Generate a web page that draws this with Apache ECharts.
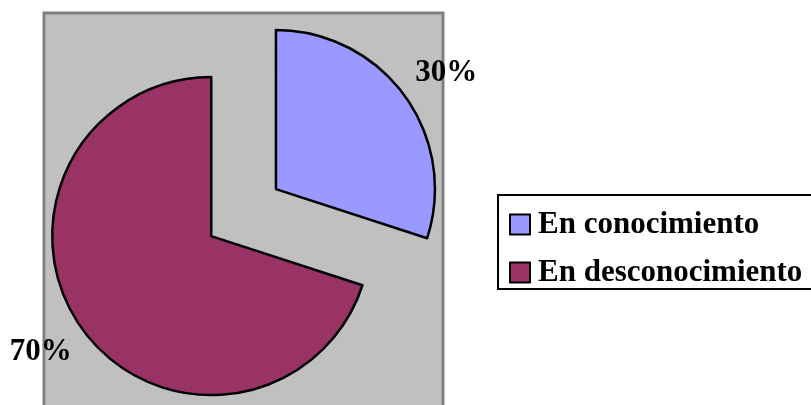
<!DOCTYPE html>
<html>
<head>
<meta charset="utf-8">
<style>
  html, body { margin: 0; padding: 0; background: #fff; }
  #chart { width: 811px; height: 405px; }
</style>
<script src="https://cdn.jsdelivr.net/npm/echarts@6/dist/echarts.min.js"></script>
</head>
<body>
<div id="chart"></div>
<script>
// data
var categories = ['En conocimiento', 'En desconocimiento'];
var values = [30, 70];
var colors = ['#9999ff', '#993366'];

var serif = "'Liberation Serif', 'Times New Roman', serif";

var chart = echarts.init(document.getElementById('chart'));

var pieData = categories.map(function (name, i) {
    return {
        name: name,
        value: values[i],
        selected: true,
        itemStyle: { color: colors[i] }
    };
});

var option = {
    backgroundColor: '#ffffff',
    animation: false,
    // grey plot area behind the pie
    graphic: [
        {
            type: 'rect',
            z: -10,
            shape: { x: 44, y: 13, width: 399, height: 430 },
            style: { fill: '#c0c0c0', stroke: '#808080', lineWidth: 3 }
        }
    ],
    legend: {
        orient: 'vertical',
        left: 498,
        top: 195,
        data: categories,
        icon: 'rect',
        itemWidth: 20,
        itemHeight: 20,
        itemGap: 17,
        padding: [14, 12, 1, 11],
        borderColor: '#000',
        borderWidth: 2,
        backgroundColor: '#ffffff',
        selectedMode: false,
        textStyle: {
            fontFamily: serif,
            fontWeight: 'bold',
            fontSize: 31,
            color: '#000',
            padding: [0, 0, 0, 3]
        }
    },
    series: [
        {
            name: 'Conocimiento',
            type: 'pie',
            center: [243.6, 212.6],
            radius: [0, 159],
            startAngle: 90,
            selectedMode: 'multiple',
            selectedOffset: 40,
            avoidLabelOverlap: false,
            itemStyle: {
                borderColor: '#000',
                borderWidth: 2.5
            },
            label: {
                position: 'outside',
                formatter: '{d}%',
                fontFamily: serif,
                fontWeight: 'bold',
                fontSize: 31,
                color: '#000',
                distanceToLabelLine: -20
            },
            labelLine: {
                show: false,
                length: 38,
                length2: 0
            },
            emphasis: { disabled: true },
            data: pieData
        }
    ]
};

chart.setOption(option);
</script>
</body>
</html>
